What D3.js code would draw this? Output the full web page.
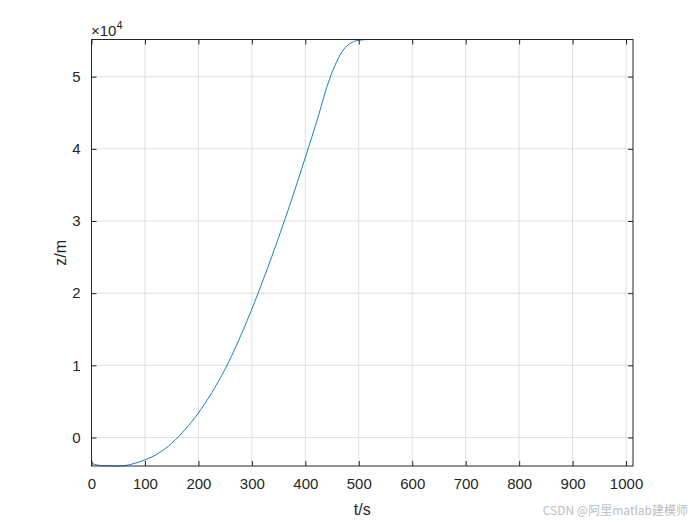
<!DOCTYPE html>
<html><head><meta charset="utf-8">
<script src="https://cdn.jsdelivr.net/npm/d3@7"></script>
<style>body{margin:0;background:#fff}svg{display:block}text{font-family:"Liberation Sans",Arial,Helvetica,sans-serif}</style>
</head><body><div id="c"></div>
<script>
const tValues = [0,10,25,50,75,100,125,150,175,200,225,250,275,300,325,350,375,400,425,440,450,460,470,480,490,500,520,550,600,700,800,900,1013];
const zValues = [-3600,-3800,-3920,-3950,-3700,-3100,-2200,-800,1100,3400,6200,9500,13400,17800,22600,27700,33100,38800,44700,48500,50600,52300,53600,54400,54850,55050,55150,55150,55150,55150,55150,55150,55150];
const xTicks = [0,100,200,300,400,500,600,700,800,900,1000];
const yTicks = [0,1,2,3,4,5];
const yScaleExp = 4;

const W=700,H=525, L=91.5, R=633, T=39.5, B=466;
const svg = d3.select("#c").append("svg").attr("width",W).attr("height",H);
const x = d3.scaleLinear().domain([0,1013]).range([L,R]);
const y = d3.scaleLinear().domain([-3950,55150]).range([B,T]);
const unit = Math.pow(10,yScaleExp);

// grid
const g = svg.append("g");
g.selectAll(".gx").data(xTicks).enter().append("line")
 .attr("x1",d=>x(d)).attr("x2",d=>x(d)).attr("y1",T).attr("y2",B)
 .attr("stroke","#dfdfdf").attr("stroke-width",1);
g.selectAll(".gy").data(yTicks).enter().append("line")
 .attr("y1",d=>y(d*unit)).attr("y2",d=>y(d*unit)).attr("x1",L).attr("x2",R)
 .attr("stroke","#dfdfdf").attr("stroke-width",1);

// line
const line = d3.line().x((d,i)=>x(tValues[i])).y(d=>y(d)).curve(d3.curveMonotoneX);
svg.append("path").datum(zValues).attr("d",line).attr("fill","none")
 .attr("stroke","#0072BD").attr("stroke-width",0.9);

// axes
const ax = svg.append("g").attr("transform",`translate(0,${B})`)
 .call(d3.axisBottom(x).tickValues(xTicks).tickFormat(d3.format("d")).tickSizeInner(-5).tickSizeOuter(0).tickPadding(12));
const ay = svg.append("g").attr("transform",`translate(${L},0)`)
 .call(d3.axisLeft(y).tickValues(yTicks.map(d=>d*unit)).tickFormat(d=>d/unit).tickSizeInner(-5).tickSizeOuter(0).tickPadding(11));
const axT = svg.append("g").attr("transform",`translate(0,${T})`)
 .call(d3.axisTop(x).tickValues(xTicks).tickSizeInner(-5).tickSizeOuter(0).tickFormat(""));
const ayR = svg.append("g").attr("transform",`translate(${R},0)`)
 .call(d3.axisRight(y).tickValues(yTicks.map(d=>d*unit)).tickSizeInner(-5).tickSizeOuter(0).tickFormat(""));
[ax,ay,axT,ayR].forEach(a=>{
  a.select(".domain").remove();
  a.selectAll("line").attr("stroke","#262626");
  a.selectAll("text").attr("fill","#262626").style("font-size","15px").style("font-family",'"Liberation Sans",Arial,sans-serif');
});
svg.append("rect").attr("x",L).attr("y",T).attr("width",R-L).attr("height",B-T)
 .attr("fill","none").attr("stroke","#262626").attr("stroke-width",1);

// labels
svg.append("text").attr("x",(L+R)/2).attr("y",515).attr("text-anchor","middle")
 .attr("fill","#262626").style("font-size","16px").text("t/s");
svg.append("text").attr("transform",`translate(66,${(T+B)/2}) rotate(-90)`).attr("text-anchor","middle")
 .attr("fill","#262626").style("font-size","16px").text("z/m");
const ex = svg.append("text").attr("x",91).attr("y",36).attr("fill","#262626").style("font-size","15px");
ex.append("tspan").text("\u00d710");
ex.append("tspan").attr("dy",-7).style("font-size","11px").text(yScaleExp);

svg.append("text").attr("x",688).attr("y",515).attr("text-anchor","end")
 .attr("fill","#bdbdbd").style("font-size","12px")
 .style("font-family",'"Noto Sans CJK SC","Noto Sans",sans-serif').text("CSDN @阿里matlab建模师");
</script></body></html>
